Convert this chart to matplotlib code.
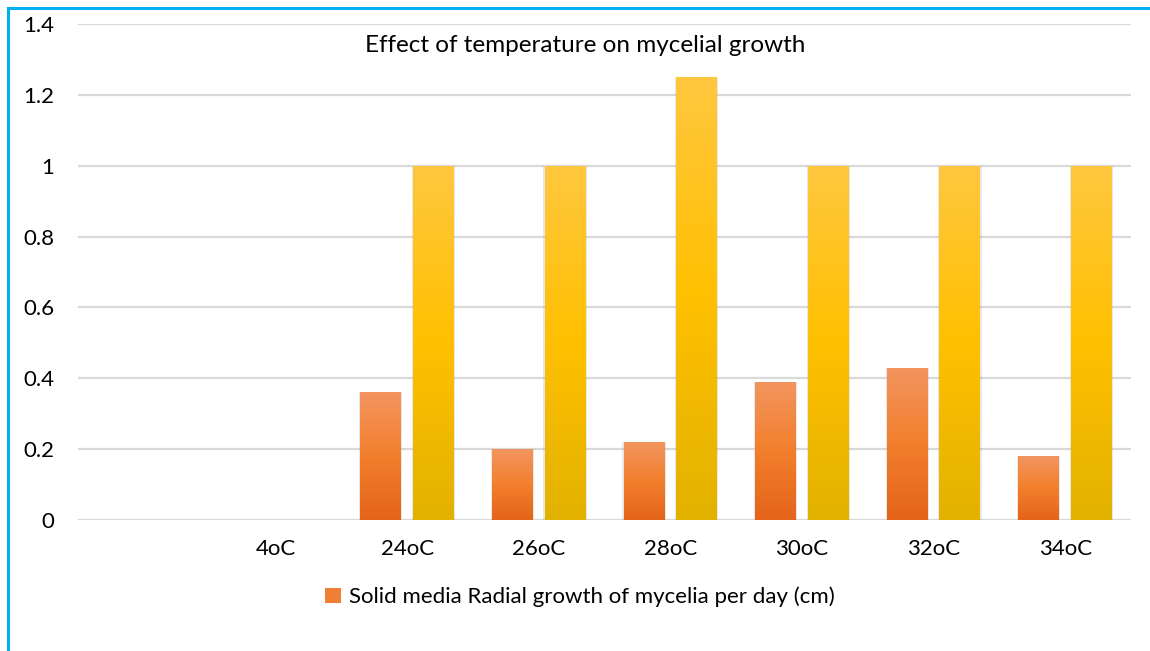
import matplotlib
matplotlib.use("Agg")
import matplotlib.pyplot as plt
import numpy as np
from matplotlib.colors import LinearSegmentedColormap
from matplotlib.patches import Patch
from matplotlib.lines import Line2D

categories = ['', '4oC', '24oC', '26oC', '28oC', '30oC', '32oC', '34oC']
solid_media = [0, 0, 0.36, 0.20, 0.22, 0.39, 0.43, 0.18]
second_series = [0, 0, 1.0, 1.0, 1.25, 1.0, 1.0, 1.0]
yticks = [0, 0.2, 0.4, 0.6, 0.8, 1, 1.2, 1.4]
ytick_labels = ['0', '0.2', '0.4', '0.6', '0.8', '1', '1.2', '1.4']
title = 'Effect of temperature on mycelial growth'
legend_label = 'Solid media Radial growth of mycelia per day (cm)'

plt.rcParams['font.family'] = ['Lato', 'DejaVu Sans']

W, H = 1150, 651
fig = plt.figure(figsize=(W / 100, H / 100), dpi=100)
ax = fig.add_axes([78 / W, 1 - 520 / H, (1131 - 78) / W, (520 - 24) / H])

orange_cmap = LinearSegmentedColormap.from_list('o', ['#E4641A', '#F27F2C', '#F39560'])
yellow_cmap = LinearSegmentedColormap.from_list('y', ['#E2B200', '#FFC000', '#FFC73F'])
grad = np.linspace(0, 1, 256).reshape(-1, 1)

x = np.arange(len(categories))
width = 0.31
off = 0.2

def gradient_bars(xs, vals, cmap):
    bars = ax.bar(xs, vals, width, facecolor='none', edgecolor='none', zorder=3)
    for b in bars:
        h = b.get_height()
        if h <= 0:
            continue
        x0 = b.get_x()
        ax.bar(x0 + b.get_width() / 2, h, b.get_width() * 1.06, color='#999999',
               alpha=0.22, zorder=2, linewidth=0)
        im = ax.imshow(grad, cmap=cmap, origin='lower', aspect='auto',
                       extent=[x0, x0 + b.get_width(), 0, h], zorder=3)
        im.set_clip_path(b)
    return bars

gradient_bars(x - off, solid_media, orange_cmap)
gradient_bars(x + off, second_series, yellow_cmap)

ax.set_xlim(-0.5, len(categories) - 0.5)
ax.set_ylim(0, 1.4)
ax.set_yticks(yticks)
ax.set_yticklabels(ytick_labels, fontsize=16)
ax.set_xticks(x)
ax.set_xticklabels(categories, fontsize=16)
ax.tick_params(length=0)
ax.tick_params(axis='x', pad=14)
ax.tick_params(axis='y', pad=17)
ax.grid(axis='y', color='#D9D9D9', linewidth=1.6, zorder=0)
ax.set_axisbelow(True)
for s in ax.spines.values():
    s.set_visible(False)

fig.text(585 / W, 1 - 46 / H, title, fontsize=17.5, ha='center', va='center')

handle = Patch(facecolor='#F07F34', edgecolor='none')
fig.legend([handle], [legend_label], loc='center', bbox_to_anchor=(580 / W, 1 - 597 / H),
           frameon=False, fontsize=16, handlelength=0.7, handleheight=0.7, handletextpad=0.35)

fig.add_artist(Line2D([8 / W, 1], [1 - 8 / H, 1 - 8 / H], color='#00B0F0', linewidth=2.2,
                      transform=fig.transFigure))
fig.add_artist(Line2D([8 / W, 8 / W], [0, 1 - 8 / H], color='#00B0F0', linewidth=2.2,
                      transform=fig.transFigure))

fig.savefig('out.png', dpi=100)
